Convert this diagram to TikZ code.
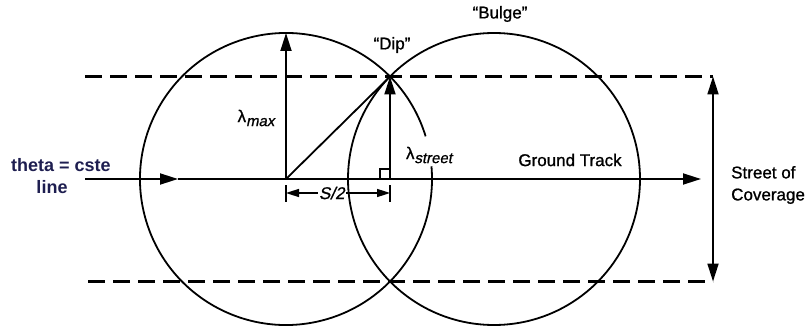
\documentclass[tikz,border=0pt]{standalone}
\usepackage{fontspec}
\setmainfont{Liberation Sans}
\newfontfamily\lblfont[FakeBold=1]{Liberation Sans}
\newfontfamily\lblfontit[FakeBold=1,FakeSlant=0.2]{Liberation Sans}
\usetikzlibrary{arrows.meta}
\definecolor{navytext}{RGB}{30,30,80}
\begin{document}
\begin{tikzpicture}[x=1pt,y=1pt,
  geo/.style={line width=1.8pt},
  dashline/.style={line width=2.2pt, dash pattern=on 17pt off 8pt},
  tip/.style={-{Triangle[length=18pt,width=11pt]}},
  dimtips/.style={{Triangle[length=13pt,width=8pt]}-{Triangle[length=13pt,width=8pt]}},
  bothtips/.style={{Triangle[length=18pt,width=11pt]}-{Triangle[length=18pt,width=11pt]}},
  lbl/.style={font=\lblfont\fontsize{17}{22}\selectfont, inner sep=0pt},
  thetalbl/.style={font=\fontsize{18}{21}\selectfont\bfseries, text=navytext, inner sep=0pt}]
\useasboundingbox (0,0) rectangle (811,-334);
% coordinates
\coordinate (O) at (286,-179);
\coordinate (C2) at (494,-179);
\coordinate (Top) at (286,-33);
\coordinate (Dip) at (390,-76.5);
\coordinate (Foot) at (390,-179);
\coordinate (Lstart) at (85,-179);
\coordinate (Lmid) at (178,-179);
\coordinate (Lend) at (701,-179);
\coordinate (DUL) at (85,-76.5);
\coordinate (DUR) at (713,-76.5);
\coordinate (DLL) at (88,-281.5);
\coordinate (DLR) at (713,-281.5);
\coordinate (RA1) at (380,-179);
\coordinate (RA2) at (380,-169);
\coordinate (RA3) at (390,-169);
\coordinate (T1a) at (286,-185);
\coordinate (T1b) at (286,-202);
\coordinate (T2a) at (390,-185);
\coordinate (T2b) at (390,-202);
\coordinate (S1) at (286,-193);
\coordinate (S2) at (390,-193);
% S/2 dimension
\draw[geo] (T1a) -- (T1b);
\draw[geo] (T2a) -- (T2b);
\draw[line width=1.6pt, dimtips] (S1) -- node[pos=0.44, fill=white, inner sep=1.5pt, font=\lblfontit\fontsize{17}{20}\selectfont] (shalf) {S/2} (S2);
% circles
\draw[geo] (O) ++(17:146) arc[start angle=17, end angle=365, radius=146];
\draw[geo] (C2) circle[radius=146];
% dashed street limits
\draw[dashline] (DUL) -- (DUR);
\draw[dashline] (DLL) -- (DLR);
\draw[geo, bothtips] (DUR) -- (DLR);
% ground track
\draw[geo, tip] (Lstart) -- (Lmid);
\draw[geo, tip] (Lmid) -- (Lend);
% construction
\draw[geo, tip] (O) -- (Top);
\draw[geo] (O) -- (Dip);
\draw[geo, tip] (Foot) -- (Dip);
\draw[line width=1.4pt] (RA1) -- (RA2) -- (RA3);
% labels
\node[lbl] (dip) at (392,-45) {“Dip”};
\node[lbl] (bulge) at (500,-14) {“Bulge”};
\node[lbl] (gt) at (570,-160) {Ground Track};
\node[lbl, anchor=west, align=left] (street) at (731,-185) {Street of\\Coverage};
\node[lbl] (lmax) at (256,-118) {λ{\lblfontit\fontsize{15}{15}\selectfont\raisebox{-4pt}{max}}};
\node[lbl] (lstreet) at (429,-155) {λ{\lblfontit\fontsize{15}{15}\selectfont\raisebox{-4pt}{street}}};
\node[thetalbl] (theta) at (61,-165) {theta = cste};
\node[thetalbl] (thline) at (52,-187) {line};
\end{tikzpicture}
\end{document}
